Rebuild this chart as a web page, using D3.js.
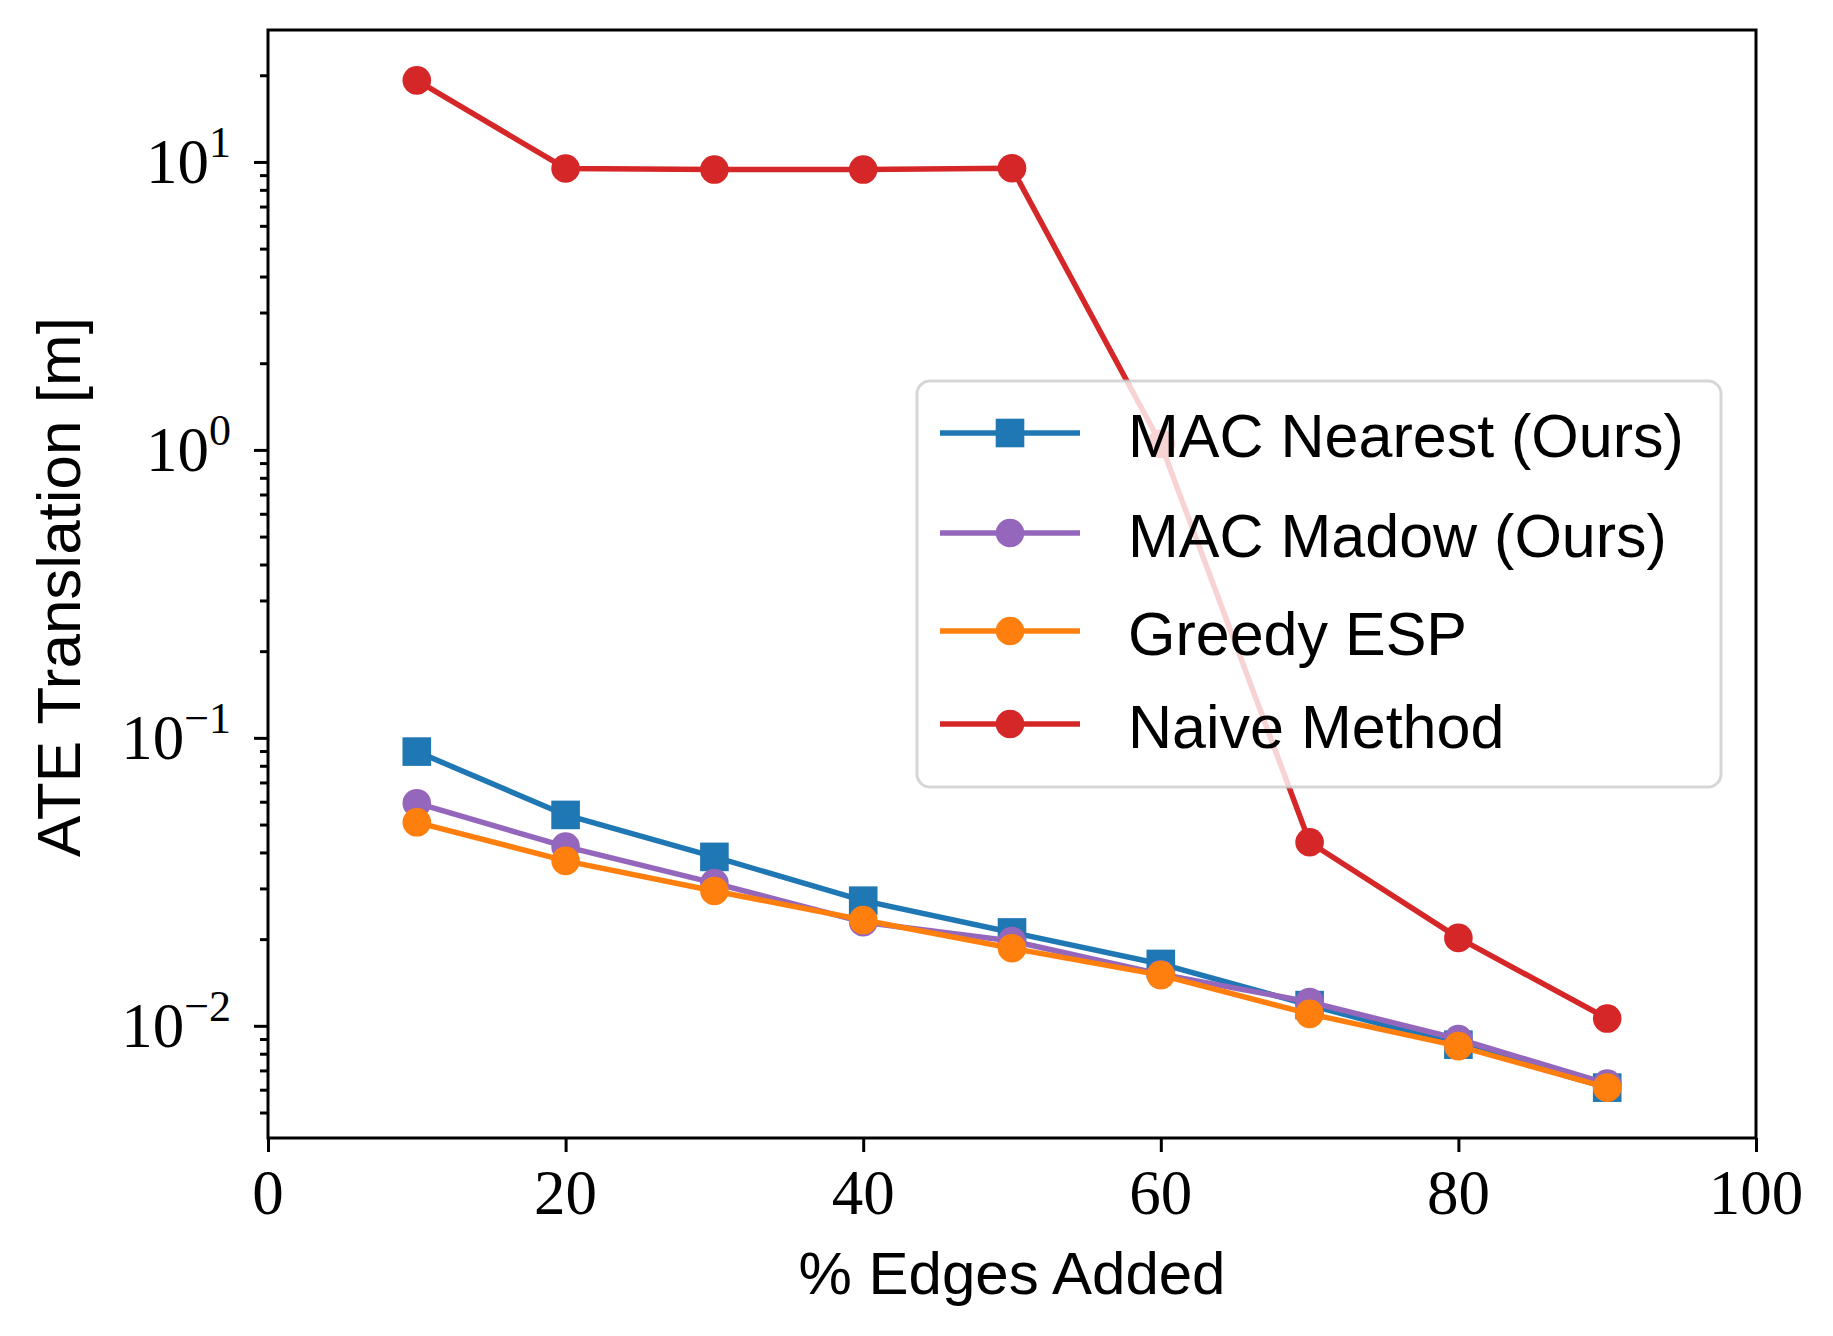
<!DOCTYPE html>
<html>
<head>
<meta charset="utf-8">
<script src="https://cdn.jsdelivr.net/npm/d3@7"></script>
<style>
  body { margin: 0; background: #fff; }
  svg { display: block; }
</style>
</head>
<body>
<svg width="1833" height="1336"></svg>
<script>
// data
var edgesAdded = [10, 20, 30, 40, 50, 60, 70, 80, 90];
var macNearest = [0.0896, 0.054, 0.0386, 0.0272, 0.0211, 0.0164, 0.0118, 0.0086, 0.0061];
var macMadow   = [0.0593, 0.0419, 0.0313, 0.0229, 0.0197, 0.0151, 0.0121, 0.0090, 0.0063];
var greedyEsp  = [0.0509, 0.0374, 0.0294, 0.0233, 0.0186, 0.0150, 0.0110, 0.0085, 0.0061];
var naive      = [19.2, 9.49, 9.41, 9.41, 9.51, 1.05, 0.0434, 0.0202, 0.0106];

var seriesNames = ['MAC Nearest (Ours)', 'MAC Madow (Ours)', 'Greedy ESP', 'Naive Method'];
var seriesColors = ['#1f77b4', '#9467bd', '#ff7f0e', '#d62728'];
var seriesMarkers = ['square', 'circle', 'circle', 'circle'];
var seriesValues = [macNearest, macMadow, greedyEsp, naive];

var xTicks = [0, 20, 40, 60, 80, 100];
var yMajorExp = [-2, -1, 0, 1];

function Run() {
    var svg = d3.select('svg');
    var left = 268, top = 30, right = 1756, bottom = 1138;

    var x = d3.scaleLinear().domain([0, 100]).range([left, right]);

    // matplotlib style 5% margin in log space
    var all = [].concat(macNearest, macMadow, greedyEsp, naive);
    var lo = Math.log10(d3.min(all)), hi = Math.log10(d3.max(all));
    var pad = (hi - lo) * 0.05;
    var y = d3.scaleLog().domain([Math.pow(10, lo - pad), Math.pow(10, hi + pad)]).range([bottom, top]);

    var minors = [];
    for (var e = -3; e <= 1; e++) {
        for (var k = 2; k <= 9; k++) {
            var v = k * Math.pow(10, e);
            if (v >= y.domain()[0] * 0.985 && v <= y.domain()[1]) minors.push(v);
        }
    }

    // axes ticks
    var xAxis = svg.append('g').attr('transform', 'translate(0,' + bottom + ')')
        .call(d3.axisBottom(x).tickValues(xTicks).tickSize(14).tickFormat(''));
    var yMinor = svg.append('g').attr('transform', 'translate(' + left + ',0)')
        .call(d3.axisLeft(y).tickValues(minors).tickSize(8).tickFormat(''));
    var yMajor = svg.append('g').attr('transform', 'translate(' + left + ',0)')
        .call(d3.axisLeft(y).tickValues(yMajorExp.map(function(d) { return Math.pow(10, d); })).tickSize(14).tickFormat(''));
    [xAxis, yMinor, yMajor].forEach(function(a) {
        a.select('.domain').remove();
        a.selectAll('line').attr('stroke', '#000').attr('stroke-width', 3);
    });

    // x tick labels
    svg.append('g').selectAll('text').data(xTicks).enter().append('text')
        .attr('x', function(d) { return x(d); }).attr('y', 1214)
        .attr('text-anchor', 'middle')
        .style('font-family', '"Liberation Serif", "DejaVu Serif", serif').style('font-size', '63px')
        .text(function(d) { return d; });

    // y tick labels 10^n
    var yl = svg.append('g').selectAll('text').data(yMajorExp).enter().append('text')
        .attr('x', 231).attr('y', function(d) { return y(Math.pow(10, d)) + 21; })
        .attr('text-anchor', 'end')
        .style('font-family', '"Liberation Serif", "DejaVu Serif", serif').style('font-size', '63px');
    yl.append('tspan').text('10');
    yl.append('tspan').attr('dy', -26).style('font-size', '44px')
        .text(function(d) { return d < 0 ? '\u2212' + (-d) : d; });

    // axis labels
    svg.append('text').attr('x', (left + right) / 2).attr('y', 1294)
        .attr('text-anchor', 'middle')
        .style('font-family', '"Liberation Sans", Arial, sans-serif').style('font-size', '60px')
        .text('% Edges Added');
    svg.append('text').attr('transform', 'translate(80,' + ((top + bottom) / 2 + 3) + ') rotate(-90)')
        .attr('text-anchor', 'middle')
        .style('font-family', '"Liberation Sans", Arial, sans-serif').style('font-size', '62px')
        .text('ATE Translation [m]');

    // series
    var line = d3.line().x(function(d, i) { return x(edgesAdded[i]); }).y(function(d) { return y(d); });
    seriesValues.forEach(function(vals, s) {
        var g = svg.append('g');
        g.append('path').attr('d', line(vals)).attr('fill', 'none')
            .attr('stroke', seriesColors[s]).attr('stroke-width', 5.5).attr('stroke-linejoin', 'round');
        vals.forEach(function(v, i) {
            if (seriesMarkers[s] == 'square') {
                g.append('rect').attr('x', x(edgesAdded[i]) - 14.3).attr('y', y(v) - 14.3)
                    .attr('width', 28.6).attr('height', 28.6).attr('fill', seriesColors[s]);
            } else {
                g.append('circle').attr('cx', x(edgesAdded[i])).attr('cy', y(v)).attr('r', 14.3)
                    .attr('fill', seriesColors[s]);
            }
        });
    });

    // frame
    svg.append('rect').attr('x', left).attr('y', top).attr('width', right - left).attr('height', bottom - top)
        .attr('fill', 'none').attr('stroke', '#000').attr('stroke-width', 3);

    // legend
    var lg = svg.append('g');
    lg.append('rect').attr('x', 917).attr('y', 381).attr('width', 804).attr('height', 406).attr('rx', 13)
        .attr('fill', '#fff').attr('fill-opacity', 0.8)
        .attr('stroke', '#cccccc').attr('stroke-opacity', 0.8).attr('stroke-width', 3);
    var rowY = [433, 533, 631, 724];
    seriesNames.forEach(function(name, s) {
        var ry = rowY[s];
        lg.append('line').attr('x1', 940).attr('x2', 1080).attr('y1', ry).attr('y2', ry)
            .attr('stroke', seriesColors[s]).attr('stroke-width', 5.5);
        if (seriesMarkers[s] == 'square') {
            lg.append('rect').attr('x', 1010 - 14.3).attr('y', ry - 14.3).attr('width', 28.6).attr('height', 28.6)
                .attr('fill', seriesColors[s]);
        } else {
            lg.append('circle').attr('cx', 1010).attr('cy', ry).attr('r', 14.3).attr('fill', seriesColors[s]);
        }
        lg.append('text').attr('x', 1128).attr('y', ry + 24)
            .style('font-family', '"Liberation Sans", Arial, sans-serif').style('font-size', '61px')
            .text(name);
    });
}

Run();
</script>
</body>
</html>
